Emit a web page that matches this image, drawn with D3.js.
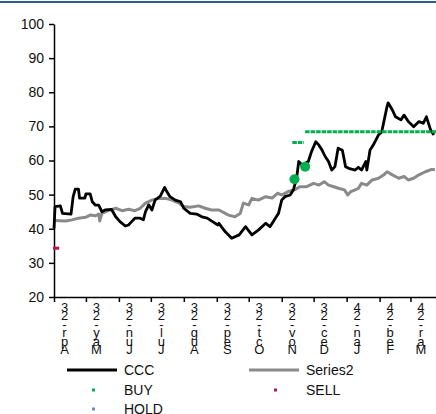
<!DOCTYPE html>
<html>
<head>
<meta charset="utf-8">
<script src="https://cdn.jsdelivr.net/npm/d3@7"></script>
<style>
  body { margin: 0; background: #fff; }
  svg { display: block; }
</style>
</head>
<body>
<div id="chart"></div>
<script>
// month tick labels (drawn as stacked characters like the original)
var monthLabels = ["Apr-23", "May-23", "Jun-23", "Jul-23", "Aug-23", "Sep-23",
                   "Oct-23", "Nov-23", "Dec-23", "Jan-24", "Feb-24", "Mar-24"];
var yTicks = [20, 30, 40, 50, 60, 70, 80, 90, 100];

// CCC price
var cccPoints = [
    ["2023-04-01", 40.1], ["2023-04-02", 46.5], ["2023-04-07", 46.7], ["2023-04-09", 44.5],
    ["2023-04-17", 44.3], ["2023-04-19", 49.4], ["2023-04-21", 51.6], ["2023-04-24", 51.6],
    ["2023-04-25", 49.0], ["2023-04-30", 49.0], ["2023-05-01", 50.2], ["2023-05-05", 50.2],
    ["2023-05-07", 47.9], ["2023-05-10", 46.9], ["2023-05-13", 46.9], ["2023-05-16", 45.0],
    ["2023-05-19", 45.5], ["2023-05-25", 45.7], ["2023-05-29", 43.5], ["2023-06-02", 42.1],
    ["2023-06-07", 40.8], ["2023-06-10", 41.1], ["2023-06-13", 42.1], ["2023-06-16", 43.1],
    ["2023-06-21", 43.1], ["2023-06-24", 42.6], ["2023-06-26", 45.0], ["2023-06-29", 47.0],
    ["2023-07-02", 45.5], ["2023-07-05", 48.4], ["2023-07-10", 49.6], ["2023-07-14", 52.1],
    ["2023-07-16", 50.9], ["2023-07-19", 49.4], ["2023-07-24", 48.4], ["2023-07-29", 47.9],
    ["2023-08-01", 46.0], ["2023-08-07", 44.5], ["2023-08-13", 44.3], ["2023-08-18", 43.5],
    ["2023-08-23", 43.1], ["2023-08-28", 42.1], ["2023-09-02", 41.1], ["2023-09-03", 41.6],
    ["2023-09-09", 39.1], ["2023-09-15", 37.2], ["2023-09-22", 38.2], ["2023-09-28", 40.6],
    ["2023-10-04", 38.2], ["2023-10-10", 39.6], ["2023-10-17", 41.6], ["2023-10-21", 40.6],
    ["2023-10-26", 43.1], ["2023-10-29", 44.5], ["2023-11-01", 48.4], ["2023-11-04", 49.4],
    ["2023-11-09", 49.9], ["2023-11-12", 51.4], ["2023-11-15", 54.8], ["2023-11-17", 59.7],
    ["2023-11-20", 58.7], ["2023-11-26", 59.7], ["2023-11-29", 62.6], ["2023-12-03", 65.5],
    ["2023-12-06", 64.5], ["2023-12-09", 63.0], ["2023-12-12", 61.1], ["2023-12-15", 59.7],
    ["2023-12-18", 57.2], ["2023-12-21", 58.2], ["2023-12-24", 63.6], ["2023-12-28", 63.0],
    ["2023-12-31", 58.2], ["2024-01-03", 57.7], ["2024-01-09", 57.2], ["2024-01-12", 58.0],
    ["2024-01-15", 57.2], ["2024-01-19", 59.7], ["2024-01-20", 57.2], ["2024-01-23", 63.1],
    ["2024-01-26", 64.5], ["2024-01-31", 67.5], ["2024-02-03", 68.4], ["2024-02-05", 71.4],
    ["2024-02-08", 75.8], ["2024-02-09", 76.9], ["2024-02-13", 74.8], ["2024-02-16", 72.8],
    ["2024-02-21", 71.9], ["2024-02-24", 73.3], ["2024-02-28", 71.4], ["2024-03-04", 69.9],
    ["2024-03-09", 71.4], ["2024-03-13", 70.9], ["2024-03-16", 72.8], ["2024-03-20", 68.9],
    ["2024-03-23", 67.5]
];

// Series2 (grey benchmark line)
var series2Points = [
    ["2023-04-01", 42.4], ["2023-04-12", 42.3], ["2023-04-18", 42.6], ["2023-04-24", 43.1],
    ["2023-05-01", 43.4], ["2023-05-05", 44.0], ["2023-05-10", 43.8], ["2023-05-13", 44.3],
    ["2023-05-14", 42.3], ["2023-05-16", 44.5], ["2023-05-22", 45.3], ["2023-05-29", 46.0],
    ["2023-06-04", 45.3], ["2023-06-10", 45.7], ["2023-06-16", 45.3], ["2023-06-21", 46.0],
    ["2023-06-26", 47.5], ["2023-07-02", 48.4], ["2023-07-08", 48.9], ["2023-07-15", 48.9],
    ["2023-07-21", 48.4], ["2023-07-27", 47.6], ["2023-08-01", 46.5], ["2023-08-07", 46.3],
    ["2023-08-15", 46.7], ["2023-08-21", 46.0], ["2023-08-27", 45.5], ["2023-09-03", 45.5],
    ["2023-09-12", 44.0], ["2023-09-18", 43.5], ["2023-09-23", 44.5], ["2023-09-26", 47.5],
    ["2023-10-01", 47.0], ["2023-10-04", 48.9], ["2023-10-10", 48.4], ["2023-10-17", 49.4],
    ["2023-10-23", 49.0], ["2023-10-28", 50.4], ["2023-11-01", 49.9], ["2023-11-07", 50.9],
    ["2023-11-13", 51.4], ["2023-11-18", 52.3], ["2023-11-24", 52.3], ["2023-12-01", 53.3],
    ["2023-12-06", 52.8], ["2023-12-11", 53.8], ["2023-12-15", 52.8], ["2023-12-20", 52.3],
    ["2023-12-25", 51.8], ["2023-12-30", 51.4], ["2024-01-02", 49.9], ["2024-01-05", 50.9],
    ["2024-01-09", 51.4], ["2024-01-12", 51.8], ["2024-01-15", 53.3], ["2024-01-20", 52.8],
    ["2024-01-25", 54.3], ["2024-01-31", 54.8], ["2024-02-05", 55.8], ["2024-02-08", 56.7],
    ["2024-02-13", 55.8], ["2024-02-19", 54.8], ["2024-02-24", 55.3], ["2024-02-28", 54.3],
    ["2024-03-04", 54.8], ["2024-03-09", 55.8], ["2024-03-15", 56.7], ["2024-03-21", 57.4],
    ["2024-03-24", 57.3]
];

// BUY target levels (drawn with dash markers), BUY dots, SELL point
var buyLevels = [
    { from: "2023-11-11", to: "2023-11-22", value: 65.3 },
    { from: "2023-11-23", to: "2024-03-25", value: 68.4 }
];
var buyDots = [["2023-11-13", 54.5], ["2023-11-23", 58.2]];
var sellPoints = [["2023-04-03", 34.3]];

function init() {
    var w = 436;
    var h = 414;
    var parse = d3.timeParse("%Y-%m-%d");
    var font = "'Liberation Sans', Arial, sans-serif";

    var x = d3.scaleTime()
        .domain([parse("2023-04-01"), parse("2024-03-25")])
        .range([54, 436]);
    var y = d3.scaleLinear()
        .domain([20, 100])
        .range([297, 24]);

    var svg = d3.select("#chart")
        .append("svg")
        .attr("width", w)
        .attr("height", h)
        .style("font-family", font);

    // blue rule at the very top
    svg.append("line")
        .attr("x1", 0).attr("x2", w)
        .attr("y1", 2).attr("y2", 2)
        .attr("stroke", "#2f5a9a")
        .attr("stroke-width", 2);

    // y axis
    var yAxis = svg.append("g")
        .attr("transform", "translate(54,0)")
        .call(d3.axisLeft(y).tickValues(yTicks).tickSize(5).tickPadding(5).tickSizeOuter(0));
    yAxis.selectAll("text").attr("font-size", "14px").attr("fill", "#111").attr("font-family", font);
    yAxis.selectAll("line, path").attr("stroke", "#000").attr("stroke-width", 1.5);

    // x axis
    var xAxis = svg.append("g")
        .attr("transform", "translate(0,297)")
        .call(d3.axisBottom(x).ticks(d3.timeMonth.every(1)).tickSize(5).tickFormat("").tickSizeOuter(0));
    xAxis.selectAll("line, path").attr("stroke", "#000").attr("stroke-width", 1.5);

    // stacked, reversed month labels
    var months = d3.timeMonth.range(parse("2023-04-01"), parse("2024-03-02"));
    var labels = svg.append("g");
    months.forEach(function(m, i) {
        var chars = monthLabels[i].split("").reverse();
        var t = labels.append("text")
            .attr("text-anchor", "middle")
            .attr("font-size", "13px")
            .attr("fill", "#111");
        chars.forEach(function(c, j) {
            t.append("tspan")
                .attr("x", x(m) + 10.5)
                .attr("y", 312 + j * 8.4)
                .text(c);
        });
    });

    var line = d3.line()
        .x(function(d) { return x(parse(d[0])); })
        .y(function(d) { return y(d[1]); });

    svg.append("path")
        .datum(series2Points)
        .attr("d", line)
        .attr("fill", "none")
        .attr("stroke", "#8a8a8a")
        .attr("stroke-width", 3)
        .attr("stroke-linejoin", "round");

    svg.append("path")
        .datum(cccPoints)
        .attr("d", line)
        .attr("fill", "none")
        .attr("stroke", "#000")
        .attr("stroke-width", 2.8)
        .attr("stroke-linejoin", "round");

    // BUY levels as rows of dash markers
    svg.selectAll(".buy-level")
        .data(buyLevels)
        .enter()
        .append("line")
        .attr("class", "buy-level")
        .attr("x1", function(d) { return x(parse(d.from)); })
        .attr("x2", function(d) { return Math.min(x(parse(d.to)), w); })
        .attr("y1", function(d) { return y(d.value); })
        .attr("y2", function(d) { return y(d.value); })
        .attr("stroke", "#00b050")
        .attr("stroke-width", 3)
        .attr("stroke-dasharray", "4.5,1");

    svg.selectAll(".buy-dot")
        .data(buyDots)
        .enter()
        .append("circle")
        .attr("class", "buy-dot")
        .attr("cx", function(d) { return x(parse(d[0])); })
        .attr("cy", function(d) { return y(d[1]); })
        .attr("r", 5)
        .attr("fill", "#00b050");

    svg.selectAll(".sell")
        .data(sellPoints)
        .enter()
        .append("rect")
        .attr("class", "sell")
        .attr("x", function(d) { return x(parse(d[0])) - 3; })
        .attr("y", function(d) { return y(d[1]) - 1.5; })
        .attr("width", 6)
        .attr("height", 3)
        .attr("fill", "#cc0a4a");

    // legend
    var legend = [
        { name: "CCC", type: "line", color: "#000", lx: 67, ly: 370 },
        { name: "Series2", type: "line", color: "#8a8a8a", lx: 249, ly: 370 },
        { name: "BUY", type: "dot", color: "#00b050", lx: 67, ly: 390 },
        { name: "SELL", type: "dot", color: "#cc0a4a", lx: 249, ly: 390 },
        { name: "HOLD", type: "dot", color: "#6f8fb5", lx: 67, ly: 409 }
    ];
    var lg = svg.append("g");
    legend.forEach(function(d) {
        if (d.type === "line") {
            lg.append("line")
                .attr("x1", d.lx).attr("x2", d.lx + 50)
                .attr("y1", d.ly).attr("y2", d.ly)
                .attr("stroke", d.color)
                .attr("stroke-width", 3);
        } else {
            lg.append("rect")
                .attr("x", d.lx + 25).attr("y", d.ly - 1.5)
                .attr("width", 3).attr("height", 3)
                .attr("fill", d.color);
        }
        lg.append("text")
            .attr("x", d.lx + 57)
            .attr("y", d.ly + 5)
            .attr("font-size", "14px")
            .attr("fill", "#111")
            .text(d.name);
    });
}

window.onload = init;
</script>
</body>
</html>
